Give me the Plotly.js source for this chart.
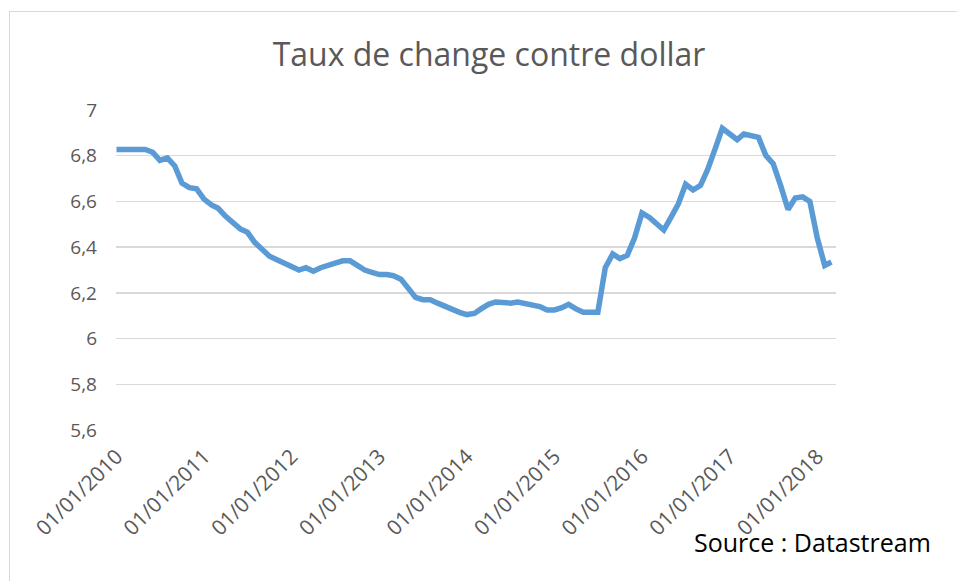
<!DOCTYPE html>
<html>
<head>
<meta charset="utf-8">
<script src="https://cdn.plot.ly/plotly-3.0.1.min.js"></script>
<style>
html,body{margin:0;padding:0;background:#fff;}
#wrap{position:relative;width:957px;height:581px;overflow:hidden;}
#chart{position:absolute;left:0;top:0;width:957px;height:581px;}
#frame{position:absolute;left:9px;top:11px;width:1000px;height:620px;border:1px solid #d9d9d9;pointer-events:none;}
</style>
</head>
<body>
<div id="wrap"><div id="chart"></div><div id="frame"></div></div>
<script>
// Monthly values, CNY per USD
const years = [2010, 2011, 2012, 2013, 2014, 2015, 2016, 2017, 2018];
const v2010 = [6.827, 6.827, 6.827, 6.827, 6.827, 6.815, 6.78, 6.79, 6.755, 6.68, 6.66, 6.655];
const v2011 = [6.61, 6.585, 6.57, 6.535, 6.51, 6.48, 6.465, 6.42, 6.39, 6.36, 6.345, 6.33];
const v2012 = [6.32, 6.30, 6.31, 6.295, 6.31, 6.32, 6.325, 6.34, 6.34, 6.32, 6.30, 6.29];
const v2013 = [6.28, 6.28, 6.275, 6.26, 6.22, 6.18, 6.17, 6.17, 6.155, 6.14, 6.13, 6.115];
const v2014 = [6.105, 6.11, 6.13, 6.15, 6.16, 6.155, 6.155, 6.16, 6.155, 6.145, 6.14, 6.125];
const v2015 = [6.125, 6.135, 6.15, 6.13, 6.115, 6.115, 6.115, 6.31, 6.37, 6.35, 6.365, 6.44];
const v2016 = [6.55, 6.53, 6.50, 6.475, 6.53, 6.59, 6.675, 6.65, 6.67, 6.74, 6.83, 6.92];
const v2017 = [6.895, 6.87, 6.895, 6.885, 6.88, 6.80, 6.765, 6.67, 6.565, 6.615, 6.62, 6.60];
const v2018 = [6.44, 6.32, 6.335];
const yearValues = [v2010, v2011, v2012, v2013, v2014, v2015, v2016, v2017, v2018];

const xTickVals = ['2010-01-01','2011-01-01','2012-01-01','2013-01-01','2014-01-01','2015-01-01','2016-01-01','2017-01-01','2018-01-01'];
const xTickText = ['01/01/2010','01/01/2011','01/01/2012','01/01/2013','01/01/2014','01/01/2015','01/01/2016','01/01/2017','01/01/2018'];
const yTickVals = [5.6, 5.8, 6.0, 6.2, 6.4, 6.6, 6.8, 7.0];
const yTickText = ['5,6', '5,8', '6', '6,2', '6,4', '6,6', '6,8', '7'];

const titleText = 'Taux de change contre dollar';
const sourceText = 'Source : Datastream';

const dates = [], values = [];
years.forEach((yr, i) => {
  yearValues[i].forEach((v, m) => {
    dates.push(yr + '-' + String(m + 1).padStart(2, '0') + '-01');
    values.push(v);
  });
});

const font = '"Open Sans", "Noto Sans", sans-serif';

Plotly.newPlot('chart', [{
  type: 'scatter', mode: 'lines',
  x: dates, y: values,
  line: {color: '#5b9bd5', width: 5.5, shape: 'linear'},
  hoverinfo: 'skip'
}], {
  width: 957, height: 581,
  margin: {l: 116, r: 121, t: 110, b: 151},
  paper_bgcolor: '#ffffff', plot_bgcolor: '#ffffff',
  showlegend: false,
  font: {family: font, color: '#595959'},
  title: {text: titleText, font: {family: font, size: 32, color: '#595959'},
          x: 0.511, xref: 'container', xanchor: 'center', y: 0.905, yref: 'container', yanchor: 'middle'},
  xaxis: {
    type: 'date', range: ['2009-12-30', '2018-03-20'],
    tickvals: xTickVals, ticktext: xTickText, tickangle: -45,
    showgrid: false, zeroline: false, showline: false, ticks: '',
    tickfont: {family: font, size: 21, color: '#595959'},
    ticklabelstandoff: 9
  },
  yaxis: {
    range: [5.6, 7.0], tickvals: yTickVals, ticktext: yTickText,
    showgrid: true, gridcolor: '#d9d9d9', gridwidth: 1.3,
    zeroline: false, showline: false, ticks: '',
    tickfont: {family: font, size: 19, color: '#595959'},
    ticklabelstandoff: 18
  },
  annotations: [{
    text: sourceText, xref: 'paper', yref: 'paper',
    x: 1.135, y: -0.35, xanchor: 'right', yanchor: 'middle', showarrow: false,
    font: {family: font, size: 25, color: '#000000'}
  }]
}, {displayModeBar: false, staticPlot: true});
</script>
</body>
</html>
